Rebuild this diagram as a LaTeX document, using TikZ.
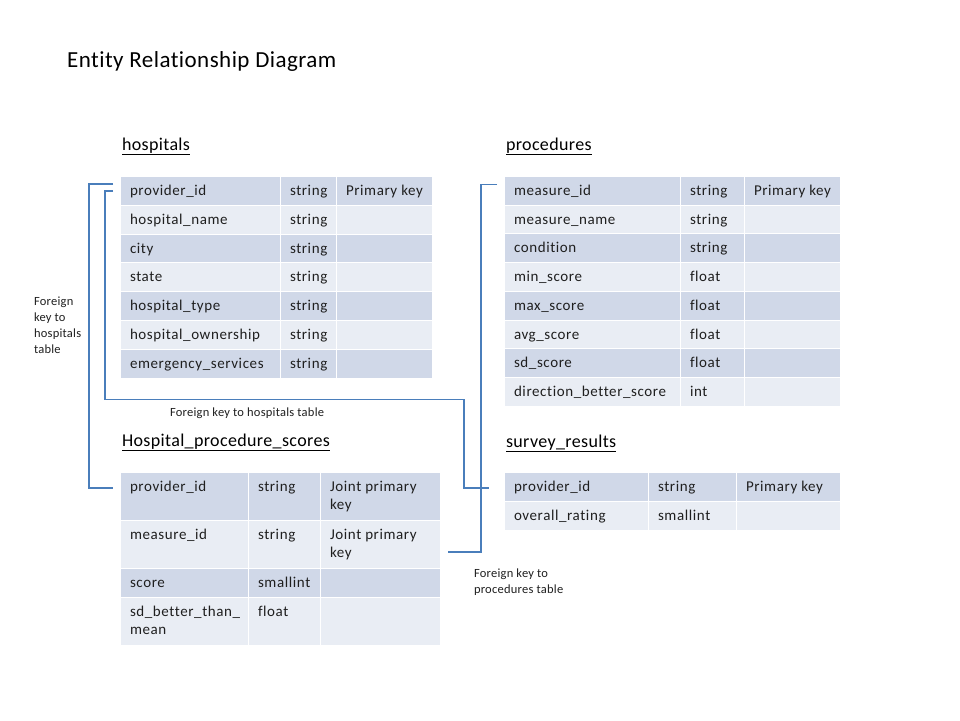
\documentclass[tikz,border=0pt]{standalone}
\usepackage{fontspec}
\setmainfont{Carlito}[Ligatures=NoCommon]
\newfontfamily\bodyfont{Carlito}[Ligatures=NoCommon, LetterSpace=4]
\newfontfamily\titlefont{Carlito}[Ligatures=NoCommon, LetterSpace=2]
\usetikzlibrary{calc}
\definecolor{dk}{HTML}{D0D8E8}
\definecolor{lt}{HTML}{E9EDF4}
\definecolor{fkblue}{HTML}{4A7EBB}
\definecolor{txt}{HTML}{1F1F1F}
\tikzset{
  cellbg/.style={draw=none, inner sep=0pt, outer sep=0pt, anchor=north west},
  celltext/.style={inner sep=0pt, outer sep=0pt, anchor=base west, text=txt, font=\bodyfont\fontsize{15}{18}\selectfont},
  tabtitle/.style={inner sep=0pt, outer sep=0pt, anchor=base west, text=black, font=\titlefont\fontsize{18}{22}\selectfont},
  smalllabel/.style={inner sep=0pt, outer sep=0pt, anchor=base west, text=txt, font=\titlefont\fontsize{12.5}{16}\selectfont},
  fkline/.style={draw=fkblue, line width=1.1pt}
}
\newcommand{\tcols}[4]{\def\ca{#1}\def\cb{#2}\def\cc{#3}\def\cd{#4}}
\newcommand{\trow}[7]{%
  \node[cellbg, fill=#4, minimum width=\cb-\ca-1, minimum height=#3-1] (#1a) at (\ca,#2) {};
  \node[cellbg, fill=#4, minimum width=\cc-\cb-1, minimum height=#3-1] (#1b) at (\cb,#2) {};
  \node[cellbg, fill=#4, minimum width=\cd-\cc-1, minimum height=#3-1] (#1c) at (\cc,#2) {};
  \node[celltext] (#1x) at ($(#1a.north west)+(9,18.5)$) {#5};
  \node[celltext] (#1y) at ($(#1b.north west)+(9,18.5)$) {#6};
  \if\relax\detokenize{#7}\relax\else
  \node[celltext] (#1z) at ($(#1c.north west)+(9,18.5)$) {#7};
  \fi
}
\begin{document}
\begin{tikzpicture}[x=1pt, y=-1pt]
\useasboundingbox (0,0) rectangle (960,720);
\fill[white] (0,0) rectangle (960,720);

\node[inner sep=0pt, anchor=base west, font=\titlefont\fontsize{23}{28}\selectfont] (maintitle) at (67,67) {Entity Relationship Diagram};

% hospitals
\node[tabtitle] (thosp) at (122,150) {\underline{hospitals}};
\tcols{121}{281}{337}{433}
\trow{ha}{177}{28.8}{dk}{provider\_id}{string}{Primary key}
\trow{hb}{205.8}{28.8}{lt}{hospital\_name}{string}{}
\trow{hc}{234.6}{28.8}{dk}{city}{string}{}
\trow{hd}{263.4}{28.8}{lt}{state}{string}{}
\trow{he}{292.2}{28.8}{dk}{hospital\_type}{string}{}
\trow{hf}{321}{28.8}{lt}{hospital\_ownership}{string}{}
\trow{hg}{349.8}{28.8}{dk}{emergency\_services}{string}{}

% procedures
\node[tabtitle] (tproc) at (506,150) {\underline{procedures}};
\tcols{505}{681}{745}{841}
\trow{pa}{177}{28.7}{dk}{measure\_id}{string}{Primary key}
\trow{pb}{205.7}{28.7}{lt}{measure\_name}{string}{}
\trow{pc}{234.4}{28.7}{dk}{condition}{string}{}
\trow{pd}{263.1}{28.7}{lt}{min\_score}{float}{}
\trow{pe}{291.8}{28.7}{dk}{max\_score}{float}{}
\trow{pf}{320.5}{28.7}{lt}{avg\_score}{float}{}
\trow{pg}{349.2}{28.7}{dk}{sd\_score}{float}{}
\trow{ph}{377.9}{28.7}{lt}{direction\_better\_score}{int}{}

% Hospital_procedure_scores
\node[tabtitle] (thps) at (122,446) {\underline{Hospital\_procedure\_scores}};
\tcols{121}{249}{321}{441}
\trow{sa}{473}{48}{dk}{provider\_id}{string}{Joint primary}
\node[celltext] (sazz) at ($(sac.north west)+(9,36.5)$) {key};
\trow{sb}{521}{48}{lt}{measure\_id}{string}{Joint primary}
\node[celltext] (sbzz) at ($(sbc.north west)+(9,36.5)$) {key};
\trow{sc}{569}{28.8}{dk}{score}{smallint}{}
\trow{sd}{597.8}{47.8}{lt}{sd\_better\_than\_}{float}{}
\node[celltext] (sdxx) at ($(sda.north west)+(9,36.5)$) {mean};

% survey_results
\node[tabtitle] (tsurv) at (506,447) {\underline{survey\_results}};
\tcols{505}{649}{737}{841}
\trow{ra}{473}{28.8}{dk}{provider\_id}{string}{Primary key}
\trow{rb}{501.8}{28.8}{lt}{overall\_rating}{smallint}{}

% connectors
\draw[fkline] ($(haa.north west)+(-8,7)$) -- ++(-24,0) |- ($(saa.north west)+(-8,15)$);
\draw[fkline] ($(haa.north west)+(-8,14)$) -- ++(-8,0) |- ($(hga.south west)+(0,22)$) -- ($(hgc.south east)+(32,22)$) |- ($(raa.north west)+(-16,15)$);
\draw[fkline] ($(paa.north west)+(-8,7.5)$) -- ++(-16,0) |- ($(sbc.north east)+(8,31)$);

% labels
\node[smalllabel] (lbl1a) at (34,305) {Foreign};
\node[smalllabel] (lbl1b) at (34,321) {key to};
\node[smalllabel] (lbl1c) at (34,337) {hospitals};
\node[smalllabel] (lbl1d) at (34,353) {table};
\node[smalllabel] (lbl2) at (170,416.5) {Foreign key to hospitals table};
\node[smalllabel] (lbl3a) at (474,577.5) {Foreign key to};
\node[smalllabel] (lbl3b) at (474,593) {procedures table};
\end{tikzpicture}
\end{document}
